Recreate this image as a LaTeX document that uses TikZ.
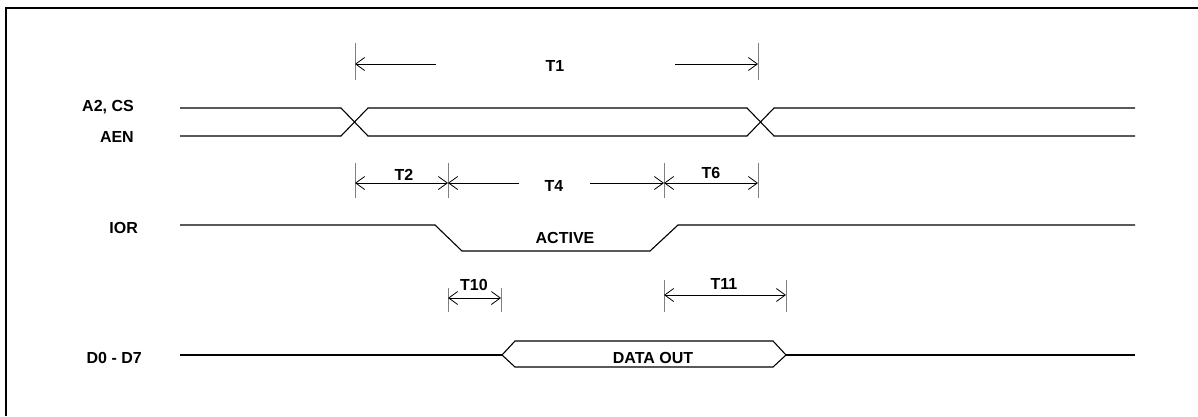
\documentclass[tikz,border=0pt]{standalone}
\usepackage{fontspec}
\setmainfont{Liberation Sans}
\usetikzlibrary{arrows.meta}
\begin{document}
\begin{tikzpicture}[x=1pt, y=-1pt]
  \useasboundingbox (0,0) rectangle (1198,416);

  \tikzstyle{sig}=[line width=1.1pt]
  \tikzstyle{bar}=[line width=0.6pt, color=gray]
  \tikzstyle{dim}=[line width=0.8pt, {Straight Barb[length=9pt,width=13pt]}-{Straight Barb[length=9pt,width=13pt]}]
  \tikzstyle{lbl}=[font=\fontsize{16}{16}\selectfont\bfseries, inner sep=0pt]
  \tikzstyle{gap}=[lbl, fill=white, inner ysep=2pt]

  % Rahmen.
  \draw[line width=2.5pt] (6,416) -- (6,8) -- (1198,8);

  % Signalnamen.
  \node[lbl, anchor=base east] (a2)  at (134,111) {A2, CS};
  \node[lbl, anchor=base east] (aen) at (134,142) {AEN};
  \node[lbl, anchor=base east] (ior) at (138,233) {IOR};
  \node[lbl, anchor=base east] (dat) at (142,363) {D0 - D7};

  % Adresse.
  \draw[sig] (180,108) -- (341,108) -- (368,136) -- (747,136) -- (774,108) -- (1135,108);
  \draw[sig] (180,136) -- (341,136) -- (368,108) -- (747,108) -- (774,136) -- (1135,136);

  % IOR.
  \draw[sig] (180,225) -- (435,225) -- (462,251) -- (650,251) -- (678,225) -- (1135,225);
  \node[lbl, anchor=base] (act) at (565,243) {ACTIVE};

  % Daten.
  \draw[sig] (180,355) -- (502,355);
  \draw[sig] (502,355) -- (515,341) -- (773,341) -- (786,355) -- (773,367) -- (515,367) -- cycle;
  \draw[sig] (786,355) -- (1135,355);
  \node[lbl, anchor=base] (out) at (653,363) {DATA OUT};

  % Zeitmarken.
  \coordinate (s1) at (355,64);
  \coordinate (s2) at (758,64);
  \coordinate (r1) at (355,183);
  \coordinate (r2) at (448,183);
  \coordinate (r3) at (664,183);
  \coordinate (r4) at (758,183);
  \coordinate (u1) at (448,298);
  \coordinate (u2) at (501,298);
  \coordinate (v1) at (664,295);
  \coordinate (v2) at (786,295);

  \draw[bar] (355,43) -- (355,80);
  \draw[bar] (758,43) -- (758,80);
  \draw[bar] (355,163) -- (355,198);
  \draw[bar] (448,163) -- (448,198);
  \draw[bar] (664,163) -- (664,198);
  \draw[bar] (758,163) -- (758,198);
  \draw[bar] (448,288) -- (448,312);
  \draw[bar] (501,288) -- (501,312);
  \draw[bar] (664,280) -- (664,312);
  \draw[bar] (786,280) -- (786,312);

  % Zeiten.
  \draw[dim] (s1) -- (s2);
  \node[gap, anchor=base, minimum width=239pt] (t1) at (555,71) {T1};

  \draw[dim] (r1) -- (r2);
  \draw[dim] (r2) -- (r3);
  \draw[dim] (r3) -- (r4);
  \node[lbl, anchor=base] (t2) at (404,180) {T2};
  \node[gap, anchor=base, minimum width=71pt] (t4) at (554,191) {T4};
  \node[lbl, anchor=base] (t6) at (711,178) {T6};

  \draw[dim] (u1) -- (u2);
  \node[lbl, anchor=base] (t10) at (474,290) {T10};
  \draw[dim] (v1) -- (v2);
  \node[lbl, anchor=base] (t11) at (724,289) {T11};
\end{tikzpicture}
\end{document}
